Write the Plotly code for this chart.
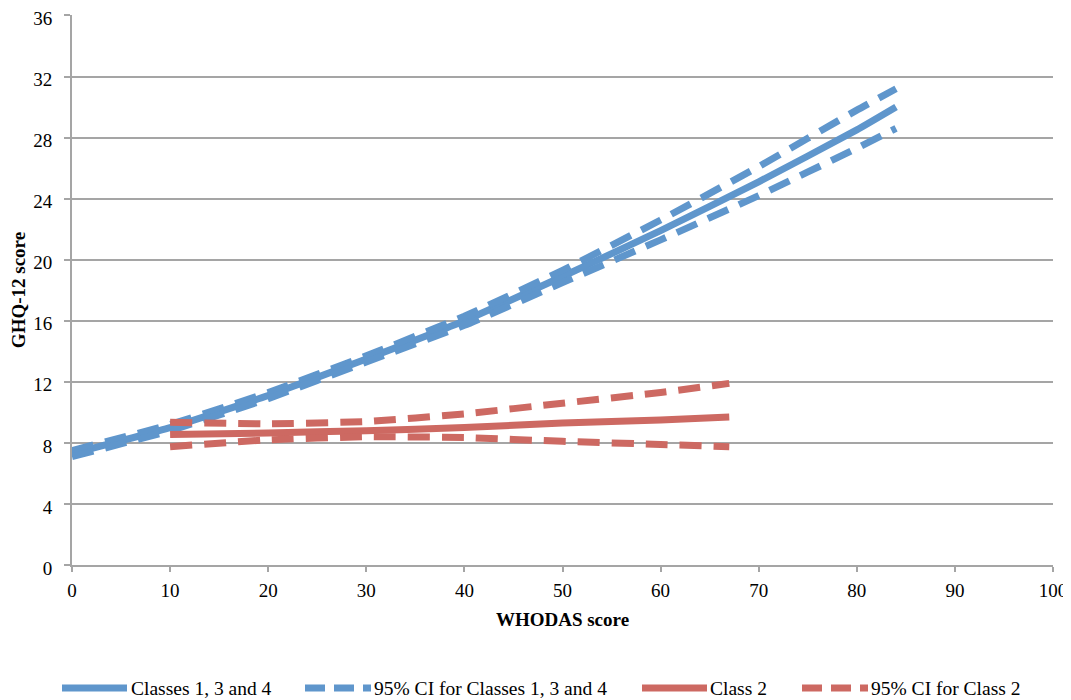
import plotly.graph_objects as go

# ---- data ----
blue_x = [0, 10, 20, 30, 40, 50, 60, 70, 80, 84]
blue_y = [7.3, 9.0, 11.1, 13.5, 16.0, 18.9, 21.9, 25.1, 28.5, 30.0]
blue_up = [7.5, 9.2, 11.3, 13.7, 16.3, 19.3, 22.6, 26.1, 29.8, 31.2]
blue_lo = [7.1, 8.8, 10.9, 13.3, 15.7, 18.5, 21.3, 24.2, 27.3, 28.6]

red_x = [10, 20, 30, 40, 50, 60, 67]
red_y = [8.55, 8.65, 8.8, 9.0, 9.3, 9.5, 9.7]
red_up = [9.35, 9.25, 9.4, 9.9, 10.6, 11.3, 11.9]
red_lo = [7.75, 8.2, 8.4, 8.35, 8.1, 7.9, 7.75]

legend_names = ["Classes 1, 3 and 4", "95% CI for Classes 1, 3 and 4",
                "Class 2", "95% CI for Class 2"]
x_ticks = list(range(0, 101, 10))
y_ticks = list(range(0, 37, 4))

BLUE = "#5F96CC"
RED = "#CD6962"
GRID = "#A5A5A5"
FONT = "Liberation Serif"
FS = 19
LW = 7
DASH = "22px,12px"

fig = go.Figure()
series = [
    (blue_x, blue_y, BLUE, "solid"),
    (blue_x, blue_up, BLUE, DASH),
    (blue_x, blue_lo, BLUE, DASH),
    (red_x, red_y, RED, "solid"),
    (red_x, red_up, RED, DASH),
    (red_x, red_lo, RED, DASH),
]
for xs, ys, col, dash in series:
    fig.add_trace(go.Scatter(x=xs, y=ys, mode="lines", showlegend=False,
                             line=dict(color=col, width=LW, dash=dash,
                                       shape="spline", smoothing=0.4),
                             hoverinfo="skip"))

# page body has an 8px default margin; size the figure to fill the window
OFF = 8
W, H = 1063, 692
ML, MR, MT, MB = 64, 18, 7, 135
pw, ph = W - ML - MR, H - MT - MB


def px(x):  # page pixel -> paper
    return (x - OFF - ML) / pw


def py(y):
    return (H - MB - (y - OFF)) / ph


# ---- custom legend (long swatches like the original) ----
leg_y = 688
entries = [(62, 127, 131, BLUE, "solid"), (305, 371, 374, BLUE, "20px,9px"),
           (642, 707, 710, RED, "solid"), (802, 868, 871, RED, "20px,9px")]
for (x0, x1, tx, col, dash), name in zip(entries, legend_names):
    fig.add_shape(type="line", xref="paper", yref="paper",
                  x0=px(x0), x1=px(x1), y0=py(leg_y), y1=py(leg_y),
                  line=dict(color=col, width=LW, dash=dash))
    fig.add_annotation(xref="paper", yref="paper", x=px(tx), y=py(leg_y),
                       text=name, showarrow=False, xanchor="left",
                       yanchor="middle", xshift=-2,
                       font=dict(family=FONT, size=19.5, color="#000"))

fig.update_layout(
    width=W, height=H,
    margin=dict(l=ML, r=MR, t=MT, b=MB),
    paper_bgcolor="white", plot_bgcolor="white",
    font=dict(family=FONT, size=FS, color="#000"),
    showlegend=False,
)
fig.update_xaxes(range=[0, 100], tickvals=x_ticks, showgrid=False,
                 showline=True, linecolor=GRID, linewidth=2,
                 ticks="outside", ticklen=5, tickcolor=GRID, tickwidth=2,
                 ticklabelstandoff=2, automargin=False,
                 ticklabeloverflow="allow",
                 zeroline=False,
                 title=dict(text="<b>WHODAS score</b>", standoff=13,
                            font=dict(family=FONT, size=FS)))
fig.update_yaxes(range=[0, 36.03], tickvals=y_ticks, showgrid=True,
                 gridcolor=GRID, gridwidth=2,
                 showline=True, linecolor=GRID, linewidth=2,
                 ticks="outside", ticklen=6, tickcolor=GRID, tickwidth=2,
                 ticklabelstandoff=8, ticklabelshift=3,
                 automargin=False, ticklabeloverflow="allow",
                 zeroline=False,
                 title=dict(text="<b>GHQ-12 score</b>", standoff=5,
                            font=dict(family=FONT, size=FS)))

fig.write_html("out.html")
